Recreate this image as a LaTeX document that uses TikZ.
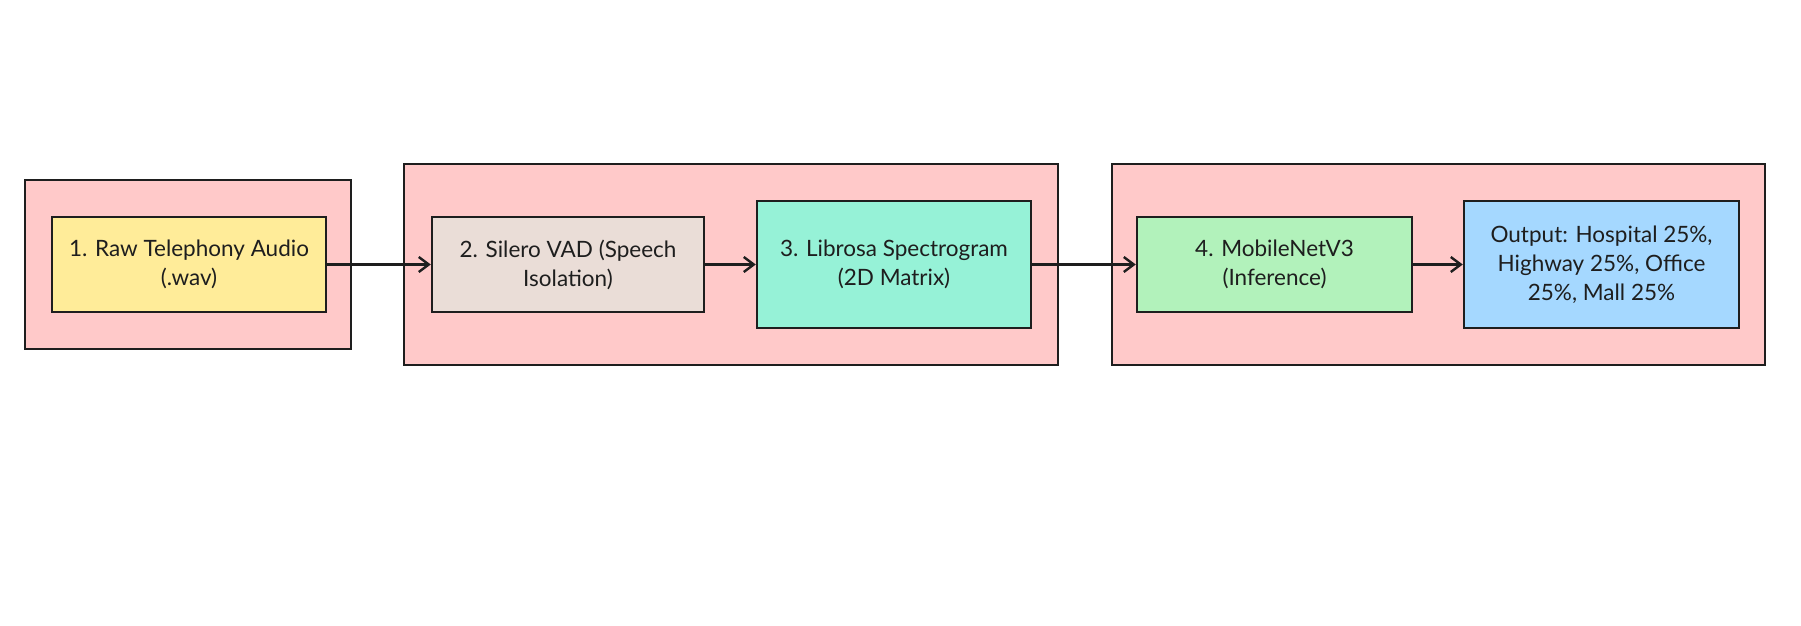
\documentclass[tikz,border=0pt]{standalone}
\usepackage{fontspec}
\setmainfont{Lato}
\usetikzlibrary{arrows.meta}
\definecolor{grp}{HTML}{FFC9C9}
\definecolor{cyel}{HTML}{FFEC99}
\definecolor{cgry}{HTML}{EADDD7}
\definecolor{cteal}{HTML}{96F2D7}
\definecolor{cgrn}{HTML}{B2F2BB}
\definecolor{cblu}{HTML}{A5D8FF}
\definecolor{ink}{HTML}{1E1E1E}
\tikzset{
  group/.style={draw=ink, fill=grp, line width=2.2pt},
  stepbox/.style={draw=ink, line width=2.4pt, inner sep=0pt, align=center,
    font=\fontsize{22.5}{29}\selectfont, text=ink},
  flow/.style={draw=ink, line width=2.4pt, -{Straight Barb[length=10pt,width=15pt,line width=2.4pt]}}
}
\begin{document}
\begin{tikzpicture}[x=1pt,y=-1pt]
\useasboundingbox (0,0) rectangle (1801,626);
\fill[white] (0,0) rectangle (1801,626);
\draw[group] (25,180) rectangle (351,349);
\draw[group] (404,164) rectangle (1058,365);
\draw[group] (1112,164) rectangle (1765,365);
\node[stepbox, fill=cyel, minimum width=274pt, minimum height=95pt] (n1) at (189,264.5) {1. Raw Telephony Audio\\(.wav)};
\node[stepbox, fill=cgry, minimum width=272pt, minimum height=95pt] (n2) at (568,264.5) {2. Silero VAD (Speech\\Isolation)};
\node[stepbox, fill=cteal, minimum width=274pt, minimum height=127pt] (n3) at (894,264.5) {3. Librosa Spectrogram\\(2D Matrix)};
\node[stepbox, fill=cgrn, minimum width=275pt, minimum height=95pt] (n4) at (1274.5,264.5) {4. MobileNetV3\\(Inference)};
\node[stepbox, fill=cblu, minimum width=275pt, minimum height=127pt] (n5) at (1601.5,264.5) {Output: Hospital 25\%,\\Highway 25\%, Office\\25\%, Mall 25\%};
\draw[flow] (n1) -- (n2);
\draw[flow] (n2) -- (n3);
\draw[flow] (n3) -- (n4);
\draw[flow] (n4) -- (n5);
\end{tikzpicture}
\end{document}
